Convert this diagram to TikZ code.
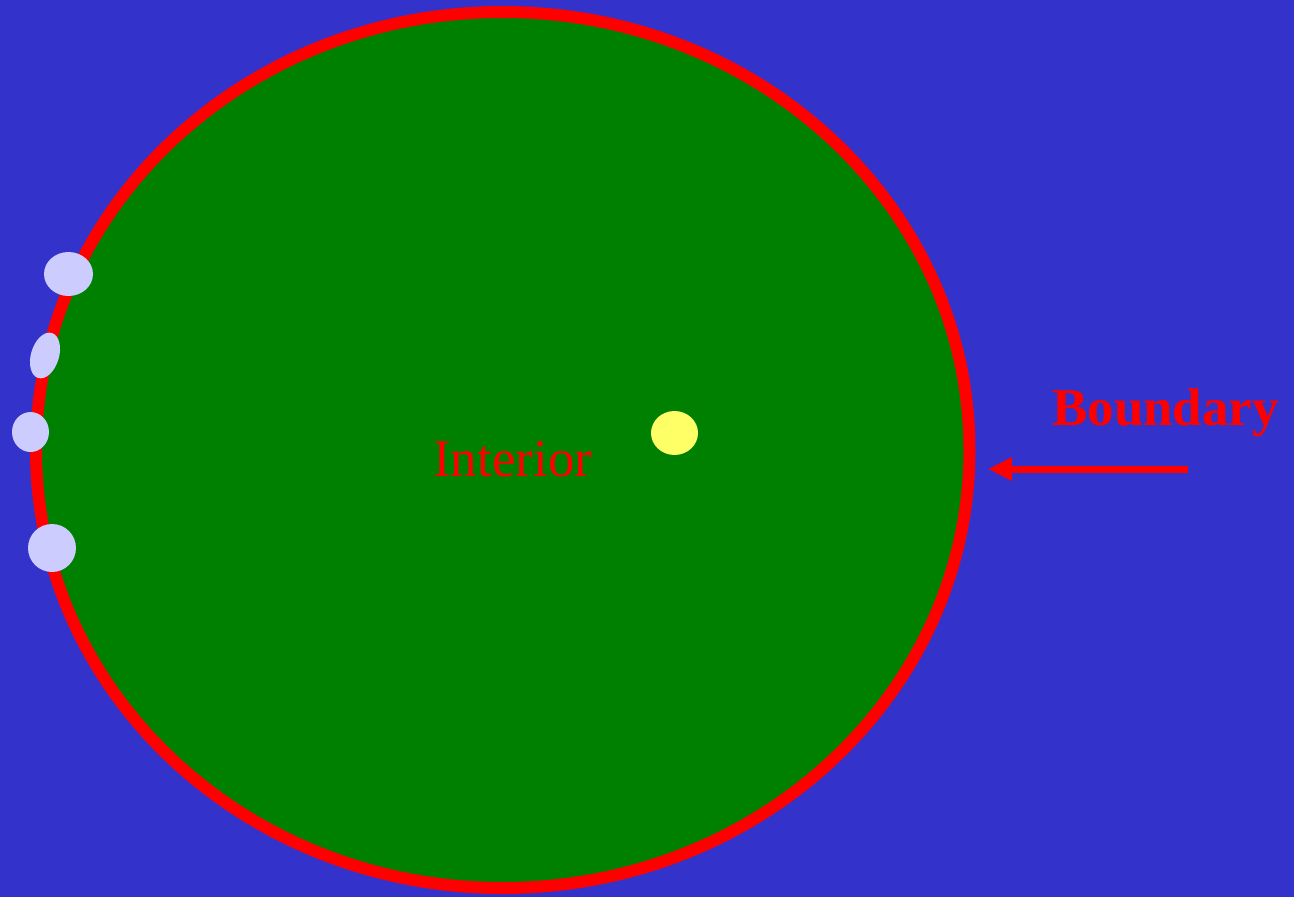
\documentclass[tikz,border=0pt]{standalone}
\usepackage{fontspec}
\setmainfont{Liberation Serif}
\usetikzlibrary{shapes.geometric,arrows.meta}
\definecolor{bgblue}{HTML}{3333CC}
\definecolor{ingreen}{HTML}{008000}
\definecolor{lav}{HTML}{CCCCFF}
\definecolor{yel}{HTML}{FFFF66}
\tikzset{
  blob/.style={ellipse, fill=lav, draw=none, inner sep=0pt},
  lbl/.style={text=red, inner sep=0pt, anchor=base west},
}
\begin{document}
\begin{tikzpicture}[x=1pt,y=-1pt]
\useasboundingbox (0,0) rectangle (1294,897);
\fill[bgblue] (0,0) rectangle (1294,897);
\node[ellipse, draw=red, line width=12pt, fill=ingreen, inner sep=0pt,
      minimum width=933.5pt, minimum height=876pt] (region) at (502.75,450) {};
\node[lbl, font=\fontsize{53}{60}\selectfont] (interior) at (433,476) {Interior};
\node[ellipse, fill=yel, inner sep=0pt, minimum width=47pt, minimum height=44pt] (pt) at (674.5,433) {};
\node[blob, minimum width=49pt, minimum height=44pt] (b1) at (68.5,274) {};
\node[blob, minimum width=28pt, minimum height=47pt, rotate=-17] (b2) at (45,355.5) {};
\node[blob, minimum width=37pt, minimum height=40pt] (b3) at (30.5,432) {};
\node[blob, minimum width=48pt, minimum height=48pt] (b4) at (52,548) {};
\node[lbl, font=\bfseries\fontsize{53}{60}\selectfont] (boundary) at (1052,425) {Boundary};
\coordinate (arrstart) at (1188,469);
\coordinate (arrtip) at (988,469);
\draw[red, line width=7pt, -{Triangle[length=24pt,width=22pt]}] (arrstart) -- (arrtip);
\end{tikzpicture}
\end{document}
